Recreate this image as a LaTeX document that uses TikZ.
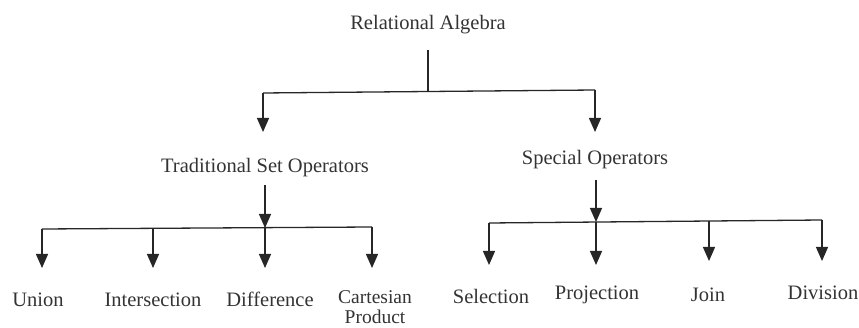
\documentclass[tikz,border=0pt]{standalone}
\usepackage{fontspec}
\setmainfont{Liberation Serif}
\usetikzlibrary{arrows.meta}
\begin{document}
\begin{tikzpicture}[x=1pt,y=-1pt,
  lbl/.style={font=\fontsize{20.5}{22}\selectfont, inner sep=0pt, align=center, text=black!80},
  ln/.style={line width=1.3pt, black!85},
  arr/.style={ln, -{Triangle[length=14pt,width=12pt]}}]
\useasboundingbox (0,0) rectangle (859,328);
% root
\node[lbl] (root) at (428,25) {Relational Algebra};
\coordinate (rtop) at (428,50);
\coordinate (rj) at (428,92);
\coordinate (rl) at (263,93);
\coordinate (rr) at (595,90);
\coordinate (rlt) at (263,132);
\coordinate (rrt) at (595,132);
\draw[ln] (rtop) -- (rj);
\draw[ln] (rl) -- (rr);
\draw[arr] (rl) -- (rlt);
\draw[arr] (rr) -- (rrt);
% traditional
\node[lbl] (trad) at (265,168) {Traditional Set Operators};
\coordinate (tt) at (265,185);
\coordinate (tj) at (265,228);
\coordinate (tl) at (42,229);
\coordinate (tr) at (372,227);
\coordinate (t1) at (153,228.5);
\draw[arr] (tt) -- (tj);
\draw[ln] (tl) -- (tr);
\coordinate (u) at (42,268);
\coordinate (i) at (153,268);
\coordinate (d) at (265,268);
\coordinate (c) at (372,268);
\draw[arr] (tl) -- (u);
\draw[arr] (t1) -- (i);
\draw[arr] (tj) -- (d);
\draw[arr] (tr) -- (c);
\node[lbl] (union) at (38,300) {Union};
\node[lbl] (inter) at (153,300) {Intersection};
\node[lbl] (diff) at (270,299) {Difference};
\node[lbl, font=\fontsize{19.5}{20}\selectfont] (cart) at (375,307) {Cartesian\\Product};
% special
\node[lbl] (spec) at (595,160) {Special Operators};
\coordinate (st) at (596,180);
\coordinate (sj) at (596,222);
\coordinate (sl) at (489,223);
\coordinate (sr) at (822,220);
\coordinate (s3) at (709,221);
\draw[arr] (st) -- (sj);
\draw[ln] (sl) -- (sr);
\coordinate (sel) at (489,265);
\coordinate (pro) at (596,265);
\coordinate (joi) at (709,261);
\coordinate (div) at (822,261);
\draw[arr] (sl) -- (sel);
\draw[arr] (sj) -- (pro);
\draw[arr] (s3) -- (joi);
\draw[arr] (sr) -- (div);
\node[lbl] (selection) at (491,296) {Selection};
\node[lbl] (projection) at (597,295) {Projection};
\node[lbl] (join) at (708,295) {Join};
\node[lbl] (division) at (823,293) {Division};
\end{tikzpicture}
\end{document}
